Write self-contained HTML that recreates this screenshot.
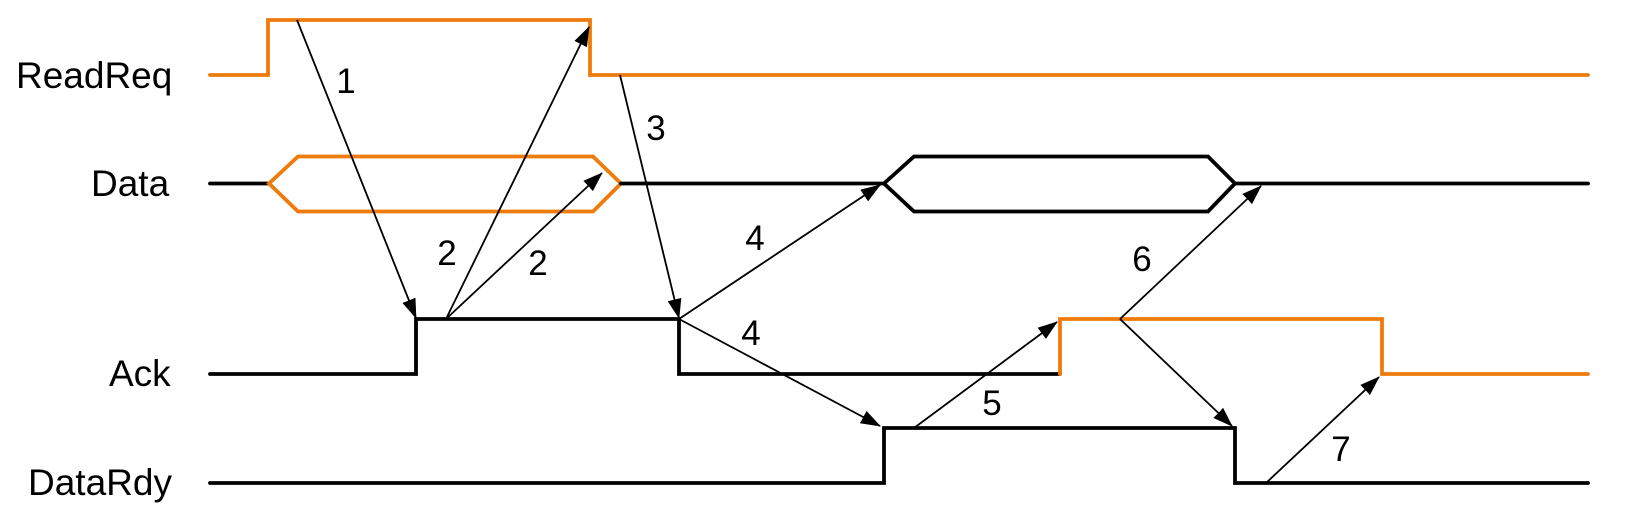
<!DOCTYPE html>
<html><head><meta charset="utf-8"><style>
html,body{margin:0;padding:0;background:#fff;}
svg{display:block;}
text{font-family:"Liberation Sans",Arial,sans-serif;fill:#000;}
</style></head><body>
<svg width="1650" height="528" viewBox="0 0 1650 528" xmlns="http://www.w3.org/2000/svg">
<defs>
<marker id="a" markerWidth="20" markerHeight="14" refX="19" refY="7" orient="auto" markerUnits="userSpaceOnUse">
<path d="M0,0 L20,7 L0,14 z" fill="#000"/>
</marker>
</defs>
<g font-size="37">
<text x="16" y="88">ReadReq</text>
<text x="91" y="196">Data</text>
<text x="109" y="386">Ack</text>
<text x="28" y="495">DataRdy</text>
</g>
<g fill="none" stroke-width="3.8" stroke-linejoin="miter" stroke-linecap="round">
<path d="M210,75 H268 V20 H590 V75 H1588" stroke="#ee7b0c"/>
<path d="M210,183.5 H269" stroke="#000"/>
<path d="M269,183.5 L298,156.5 H593 L621,183.5 L593,211.5 H298 Z" stroke="#ee7b0c"/>
<path d="M621,183.5 H884 M1235,183.5 H1588" stroke="#000"/>
<path d="M884,183.5 L914,156.5 H1208 L1235,183.5 L1208,211.5 H914 Z" stroke="#000"/>
<path d="M210,374 H416 V319 H679 V374 H1060" stroke="#000"/>
<path d="M1060,374 V319 H1382 V374 H1588" stroke="#ee7b0c"/>
<path d="M210,483 H884 V428 H1235 V483 H1588" stroke="#000"/>
</g>
<g stroke="#000" stroke-width="1.8" fill="none" marker-end="url(#a)">
<line x1="297" y1="20" x2="416" y2="318"/>
<line x1="446" y1="319" x2="589" y2="27"/>
<line x1="446" y1="319" x2="602" y2="173"/>
<line x1="620" y1="75" x2="679" y2="318"/>
<line x1="679" y1="319" x2="880" y2="185"/>
<line x1="679" y1="319" x2="880" y2="426"/>
<line x1="914" y1="428" x2="1057" y2="322"/>
<line x1="1120" y1="319" x2="1261" y2="186"/>
<line x1="1120" y1="319" x2="1232" y2="426"/>
<line x1="1266" y1="483" x2="1379" y2="377"/>
</g>
<g font-size="35" text-anchor="middle">
<text x="346" y="93">1</text>
<text x="447" y="265">2</text>
<text x="538" y="275">2</text>
<text x="656" y="140">3</text>
<text x="755" y="250">4</text>
<text x="751" y="345">4</text>
<text x="992" y="415">5</text>
<text x="1142" y="271">6</text>
<text x="1341" y="461">7</text>
</g>
</svg>
</body></html>
